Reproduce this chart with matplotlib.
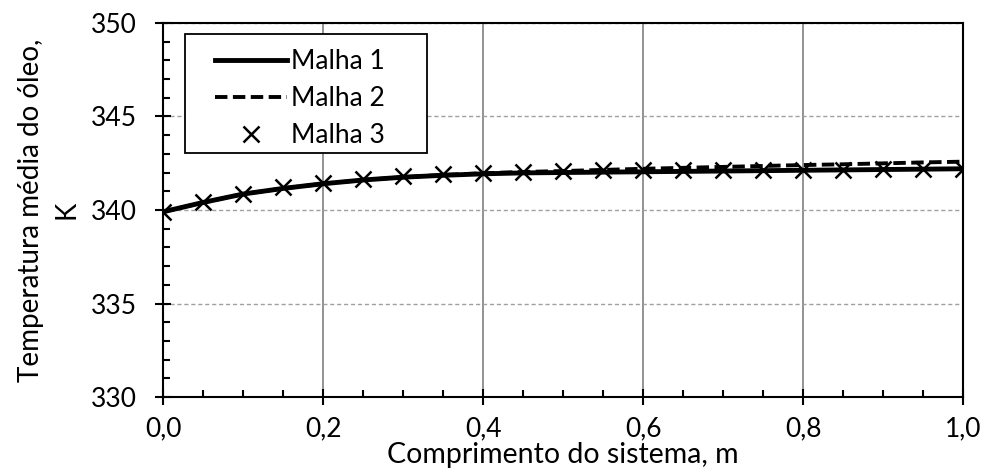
import numpy as np
import matplotlib.pyplot as plt
from matplotlib.patches import Rectangle
from matplotlib.ticker import MultipleLocator, FuncFormatter

plt.rcParams['font.family'] = ['Lato', 'DejaVu Sans']

# comprimento (m) e temperatura média do óleo (K) para cada malha
x = [0.0, 0.05, 0.1, 0.15, 0.2, 0.25, 0.3, 0.35, 0.4, 0.45, 0.5,
     0.55, 0.6, 0.65, 0.7, 0.75, 0.8, 0.85, 0.9, 0.95, 1.0]
malha1 = [339.9, 340.4, 340.85, 341.15, 341.4, 341.6, 341.75, 341.85, 341.93, 341.98, 342.0,
          342.02, 342.04, 342.06, 342.08, 342.1, 342.12, 342.14, 342.16, 342.18, 342.2]
malha2 = [339.9, 340.4, 340.85, 341.15, 341.4, 341.6, 341.75, 341.87, 341.96, 342.03, 342.08,
          342.14, 342.2, 342.25, 342.3, 342.35, 342.4, 342.44, 342.49, 342.54, 342.58]
malha3 = [339.9, 340.45, 340.85, 341.2, 341.45, 341.65, 341.8, 341.9, 342.0, 342.05, 342.1,
          342.12, 342.15, 342.15, 342.15, 342.15, 342.15, 342.15, 342.17, 342.2, 342.2]

fig = plt.figure(figsize=(9.88, 4.75), dpi=100)
ax = fig.add_axes([0.165, 0.164, 0.81, 0.788])

ax.plot(x, malha1, color='black', lw=3.5, label='Malha 1', zorder=3)
ax.plot(x, malha2, color='black', lw=2.8, ls=(0, (3.2, 1.4)), label='Malha 2', zorder=3)
ax.plot(x, malha3, ls='none', marker='x', ms=11, mew=1.8, color='black', label='Malha 3', zorder=4)

ax.set_xlim(0, 1.0)
ax.set_ylim(330, 350)
ax.xaxis.set_major_locator(MultipleLocator(0.2))
ax.xaxis.set_minor_locator(MultipleLocator(0.05))
ax.yaxis.set_major_locator(MultipleLocator(5))
ax.yaxis.set_minor_locator(MultipleLocator(1))
ax.xaxis.set_major_formatter(FuncFormatter(lambda v, p: f'{v:.1f}'.replace('.', ',')))

ax.tick_params(which='major', direction='inout', length=12, width=1.5, labelsize=19)
ax.tick_params(which='minor', direction='in', length=5, width=1.5)
ax.tick_params(axis='x', pad=8)
ax.tick_params(axis='y', pad=13)

ax.grid(axis='x', which='major', color='#808080', lw=1.2)
ax.grid(axis='y', which='major', color='#a0a0a0', lw=1.0, ls=(0, (3, 2)))

for s in ax.spines.values():
    s.set_linewidth(1.5)
    s.set_color('black')

ax.set_xlabel('Comprimento do sistema, m', fontsize=20.5, labelpad=0)
ax.set_ylabel('Temperatura média do óleo,\nK', fontsize=20, labelpad=8, linespacing=1.45)

# caixa da legenda desenhada à parte, com folga maior nas laterais
ax.add_patch(Rectangle((0.0275, 0.652), 0.3025, 0.319, transform=ax.transAxes,
                       facecolor='white', edgecolor='black', lw=1.3, zorder=5))
leg = ax.legend(loc='upper left', bbox_to_anchor=(0.0655, 0.93), fontsize=19,
                handlelength=2.7, handletextpad=0.15, borderpad=0, borderaxespad=0,
                labelspacing=0.45, frameon=False)
leg.set_zorder(6)

fig.savefig('out.png', dpi=100)
